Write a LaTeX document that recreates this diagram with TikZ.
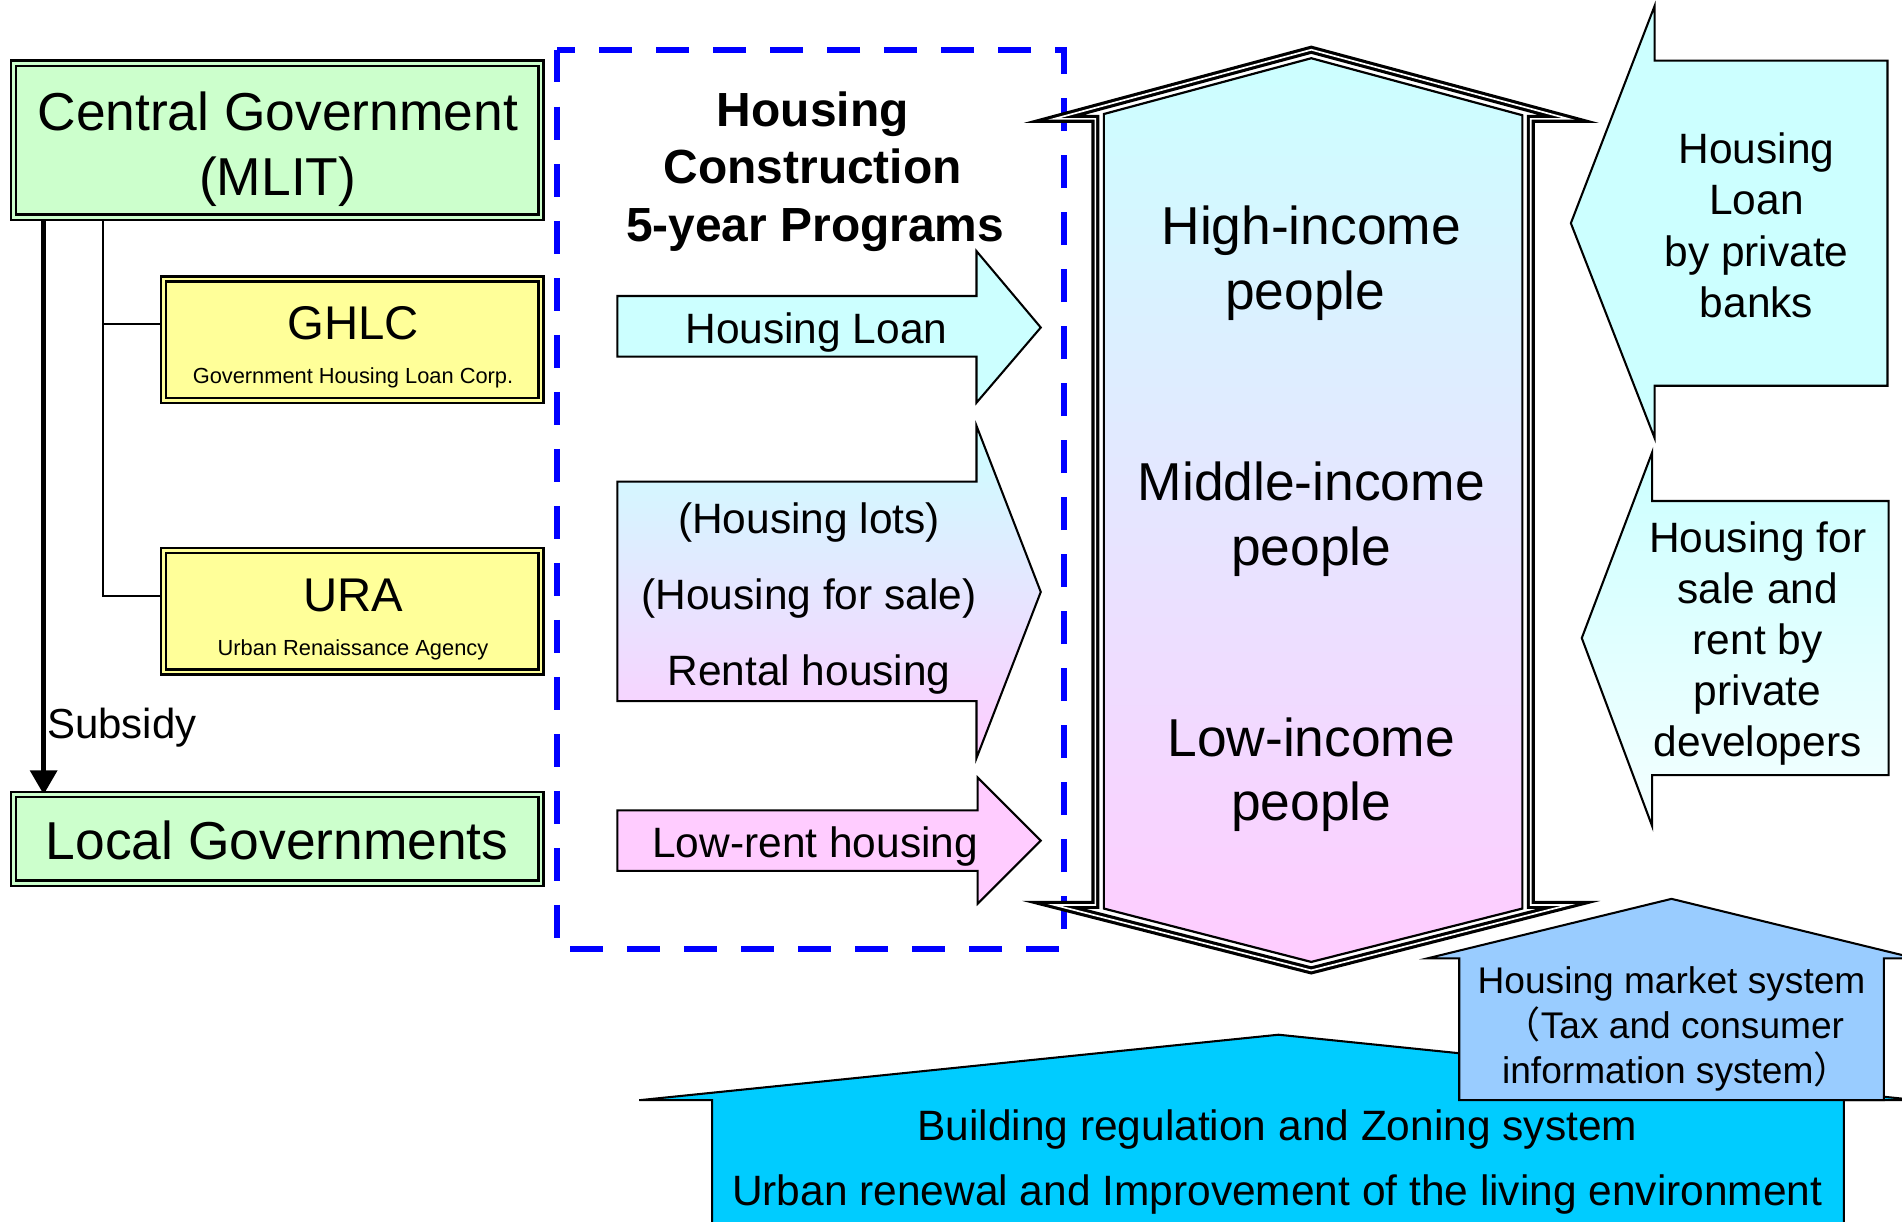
\documentclass[tikz,border=0pt]{standalone}
\usepackage{fontspec}
\setmainfont{Liberation Sans}
\newfontfamily\cjkfont{Noto Sans CJK JP}
\usetikzlibrary{arrows.meta,backgrounds}
\definecolor{lgreen}{HTML}{CCFFCC}
\definecolor{lyellow}{HTML}{FFFF99}
\definecolor{lcyan}{HTML}{CCFFFF}
\definecolor{lpink}{HTML}{FFCCFF}
\definecolor{lblue}{HTML}{99CCFF}
\definecolor{skyc}{HTML}{00CCFF}
\definecolor{paleend}{HTML}{F4FFFF}
\newcommand{\fsBig}{\fontsize{22pt}{26pt}\selectfont}
\newcommand{\fsOrg}{\fontsize{19.5pt}{23pt}\selectfont}
\newcommand{\fsSmall}{\fontsize{9pt}{11pt}\selectfont}
\newcommand{\fsSub}{\fontsize{17.3pt}{21pt}\selectfont}
\newcommand{\fsTitle}{\fontsize{19.75pt}{23.7pt}\selectfont\bfseries}
\newcommand{\fsArr}{\fontsize{17.5pt}{21pt}\selectfont}
\newcommand{\fsMkt}{\fontsize{15.3pt}{18.4pt}\selectfont}
\begin{document}
\begin{tikzpicture}[x=0.5pt,y=-0.5pt,
  bx/.style={draw=black, line width=0.9pt, double distance=1.2pt, inner sep=0pt, outer sep=0pt},
  ol/.style={draw=black, line width=0.85pt, line join=miter},
  lb/.style={inner sep=0pt, outer sep=0pt, anchor=base}]
\useasboundingbox (0,0) rectangle (1568,1007);
\clip (0,0) rectangle (1568,1007);

% ---- left organisation boxes ----
\coordinate (xa) at (36,0);
\coordinate (xb) at (85,0);
\coordinate (ya) at (0,267);
\coordinate (yb) at (0,491);
\node[bx, double=lgreen, fill=lgreen, minimum width=217.5pt, minimum height=63.5pt] (cg) at (228.5,115.5) {};
\node[bx, double=lyellow, fill=lyellow, minimum width=155.5pt, minimum height=50pt] (ghlc) at (290.5,280) {};
\node[bx, double=lyellow, fill=lyellow, minimum width=155.5pt, minimum height=50pt] (ura) at (290.5,504) {};
\node[bx, double=lgreen, fill=lgreen, minimum width=217.5pt, minimum height=36.5pt] (lg) at (228.5,691.5) {};

\begin{pgfonlayer}{background}
\draw[line width=0.9pt] (cg.south -| xb) |- (ghlc.west |- ya);
\draw[line width=0.9pt] (cg.south -| xb) |- (ura.west |- yb);
\draw[line width=1.9pt, -{Triangle[length=10pt,width=11pt]}] (cg.south -| xa) -- (lg.north -| xa);
\end{pgfonlayer}

\node[lb, font=\fsBig] (cgt1) at (229,107.8) {Central Government};
\node[lb, font=\fsBig] (cgt2) at (229,160.8) {(MLIT)};
\node[lb, font=\fsOrg] (ght1) at (291,280) {GHLC};
\node[lb, font=\fsSmall] (ght2) at (291,316) {Government Housing Loan Corp.};
\node[lb, font=\fsOrg] (urt1) at (291,504) {URA};
\node[lb, font=\fsSmall] (urt2) at (291,540) {Urban Renaissance Agency};
\node[lb, font=\fsBig] (lgt) at (228.5,708.5) {Local Governments};
\node[lb, font=\fsSub, anchor=base west] (sub) at (39,609) {Subsidy};

% ---- programs box ----
\draw[blue, line width=2.5pt, dash pattern=on 13.5pt off 10pt] (459,41) rectangle (877,782);
\node[lb, font=\fsTitle] (tt1) at (670,104) {Housing};
\node[lb, font=\fsTitle] (tt2) at (670,151) {Construction};
\node[lb, font=\fsTitle] (tt3) at (672,199) {5-year Programs};

\draw[ol, fill=lcyan] (509,244) -- (805,244) -- (805,207) -- (858,270) -- (805,332) -- (805,294) -- (509,294) -- cycle;
\node[lb, font=\fsArr] (hl) at (673,283.5) {Housing Loan};

\shadedraw[ol, top color=lcyan, bottom color=lpink] (509,397) -- (805,397) -- (805,351) -- (858,488) -- (805,625) -- (805,578) -- (509,578) -- cycle;
\node[lb, font=\fsArr] (m1) at (667,439.5) {(Housing lots)};
\node[lb, font=\fsArr] (m2) at (667,502.5) {(Housing for sale)};
\node[lb, font=\fsArr] (m3) at (667,565.5) {Rental housing};

\draw[ol, fill=lpink] (509,668) -- (806,668) -- (806,641) -- (858,693) -- (806,745) -- (806,718) -- (509,718) -- cycle;
\node[lb, font=\fsArr] (lr) at (672,706.5) {Low-rent housing};

% ---- central double arrow ----
\draw[line width=1.3pt, double=white, double distance=0.7pt, fill=white, miter limit=12]
  (1081,41) -- (1293,98) -- (1262,98) -- (1262,746) -- (1293,746) -- (1081,800)
  -- (869,746) -- (903,746) -- (903,98) -- (869,98) -- cycle;
\shadedraw[draw=black, line width=0.9pt, top color=lcyan, bottom color=lpink]
  (1081,48) -- (1255,95) -- (1255,749) -- (1081,793) -- (910,749) -- (910,94) -- cycle;
\node[lb, font=\fsBig] (hi1) at (1081,201.8) {High-income};
\node[lb, font=\fsBig] (hi2) at (1076,254.8) {people};
\node[lb, font=\fsBig] (mi1) at (1081,412.8) {Middle-income};
\node[lb, font=\fsBig] (mi2) at (1081,465.8) {people};
\node[lb, font=\fsBig] (li1) at (1081,623.8) {Low-income};
\node[lb, font=\fsBig] (li2) at (1081,676.8) {people};

% ---- right arrows ----
\draw[ol, fill=lcyan] (1364,5) -- (1364,50) -- (1556,50) -- (1556,318) -- (1364,318) -- (1364,361) -- (1295,184) -- cycle;
\node[lb, font=\fsArr] (r11) at (1448,134.5) {Housing};
\node[lb, font=\fsArr] (r12) at (1448,177) {Loan};
\node[lb, font=\fsArr] (r13) at (1448,219.5) {by private};
\node[lb, font=\fsArr] (r14) at (1448,262) {banks};

\shadedraw[ol, top color=lcyan, bottom color=paleend] (1362,373) -- (1362,413) -- (1557,413) -- (1557,639) -- (1362,639) -- (1362,681) -- (1304,526) -- cycle;
\node[lb, font=\fsArr] (r21) at (1449,455.5) {Housing for};
\node[lb, font=\fsArr] (r22) at (1449,497.5) {sale and};
\node[lb, font=\fsArr] (r23) at (1449,539.5) {rent by};
\node[lb, font=\fsArr] (r24) at (1449,581.5) {private};
\node[lb, font=\fsArr] (r25) at (1449,623.5) {developers};

% ---- bottom houses ----
\draw[ol, fill=skyc] (587,1030) -- (587,907) -- (527,907) -- (1054,853) -- (1581,907) -- (1520,907) -- (1520,1030) -- cycle;
\node[lb, font=\fsArr] (b1) at (1053,940.5) {Building regulation and Zoning system};
\node[lb, font=\fsArr] (b2) at (1053,993.5) {Urban renewal and Improvement of the living environment};

\draw[ol, fill=lblue] (1203,907) -- (1203,790) -- (1177,790) -- (1378,741) -- (1579,790) -- (1553,790) -- (1553,907) -- cycle;
\node[lb, font=\fsMkt] (hm1) at (1378,819) {Housing market system};
\node[lb, font=\fsMkt] (hm2) at (1380,856) {{\cjkfont （}Tax and consumer};
\node[lb, font=\fsMkt] (hm3) at (1382,893) {information system{\cjkfont ）}};
\end{tikzpicture}
\end{document}
